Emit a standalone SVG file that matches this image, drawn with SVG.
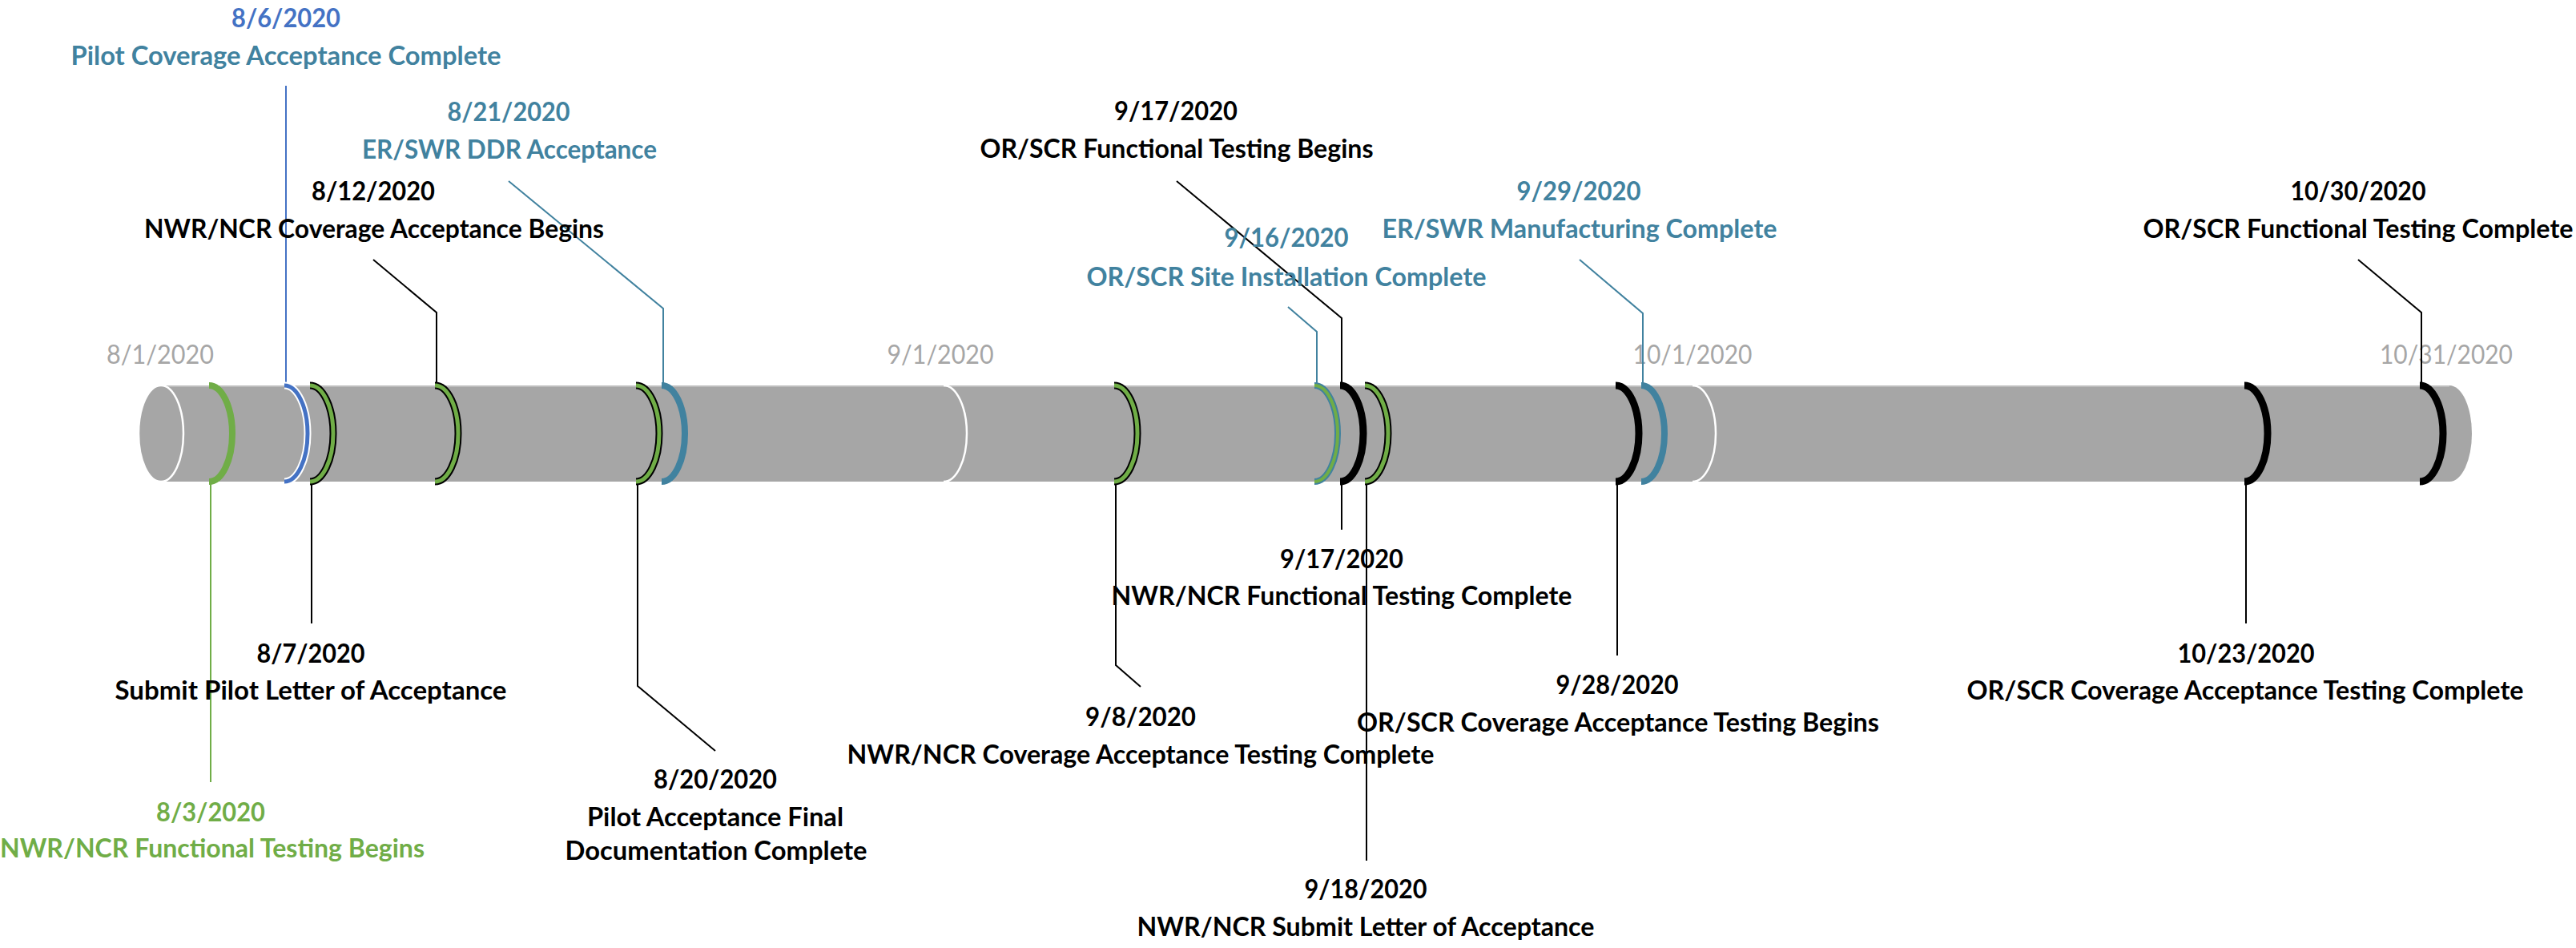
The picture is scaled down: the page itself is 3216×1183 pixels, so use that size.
<svg xmlns="http://www.w3.org/2000/svg" width="3216" height="1183" viewBox="0 0 3216 1183">
<style>
text{font-family:Lato,"Liberation Sans",sans-serif;font-size:32px;font-weight:bold;text-anchor:middle}
.k{fill:#000}
.tl{fill:#41829F}
.bl{fill:#4472C4}
.gr{fill:#70AD47}
.mo{fill:#A6A6A6;font-weight:normal}
.arc{fill:none}
.s-k{stroke:#000;stroke-width:9}
.s-g{stroke:#70AD47;stroke-width:5}
.s-gt{stroke:#70AD47;stroke-width:8}
.s-w{stroke:#FFF;stroke-width:9}
.s-b{stroke:#4472C4;stroke-width:5}
.s-t{stroke:#41829F;stroke-width:8}
.s-g4{stroke:#70AD47;stroke-width:4}
.s-m{stroke:#FFF;stroke-width:2.5}
.c{fill:none;stroke-width:2}
.ck{stroke:#000}
.ct{stroke:#41829F}
.cb{stroke:#4472C4}
.cg{stroke:#70AD47}
</style>
<defs>
<path id="a" d="M0,481 A29 60 0 0 1 0,601"/>
</defs>
<g id="cylinder">
<path d="M201,481 H3058 A28 60 0 0 1 3058,601 H201 Z" fill="#A6A6A6"/>
<line x1="201" y1="482" x2="3058" y2="482" stroke="#BDBDBD" stroke-width="2"/>
<ellipse cx="201" cy="541" rx="28" ry="60" fill="#A6A6A6" stroke="#FFF" stroke-width="2.5"/>
</g>
<g id="months">
<text class="mo" x="200" y="454" textLength="134" lengthAdjust="spacingAndGlyphs">8/1/2020</text>
<use href="#a" x="1178" class="arc s-m"/>
<text class="mo" x="1174" y="454" textLength="133" lengthAdjust="spacingAndGlyphs">9/1/2020</text>
<use href="#a" x="2113" class="arc s-m"/>
<text class="mo" x="2113" y="454" textLength="149" lengthAdjust="spacingAndGlyphs">10/1/2020</text>
<text class="mo" x="3054" y="454" textLength="166" lengthAdjust="spacingAndGlyphs">10/31/2020</text>
</g>
<g id="connectors">
<polyline class="c cg" points="263,601 263,976"/>
<polyline class="c cb" points="357,481 357,107"/>
<polyline class="c ck" points="389,601 389,778"/>
<polyline class="c ck" points="545,481 545,390 466,324"/>
<polyline class="c ck" points="796,601 796,856 893,937"/>
<polyline class="c ct" points="828,481 828,385 635,226"/>
<polyline class="c ck" points="1393,601 1393,830 1424,857"/>
<polyline class="c ct" points="1644,481 1644,414 1608,383"/>
<polyline class="c ck" points="1675,481 1675,397 1469,226"/>
<polyline class="c ck" points="1675,601 1675,661"/>
<polyline class="c ck" points="1706,601 1706,1074"/>
<polyline class="c ck" points="2019,601 2019,818"/>
<polyline class="c ct" points="2051,481 2051,391 1972,324"/>
<polyline class="c ck" points="2804,601 2804,778"/>
<polyline class="c ck" points="3023,481 3023,390 2944,324"/>
</g>
<g id="m0803">
<use href="#a" x="261" class="arc s-gt"/>
<text class="gr" x="263" y="1025" textLength="136" lengthAdjust="spacingAndGlyphs">8/3/2020</text>
<text class="gr" x="265" y="1070" textLength="530" lengthAdjust="spacingAndGlyphs">NWR/NCR Functional Testing Begins</text>
</g>
<g id="m0806">
<use href="#a" x="355" class="arc s-w"/>
<use href="#a" x="355" class="arc s-b"/>
<text class="bl" x="357" y="34" textLength="136" lengthAdjust="spacingAndGlyphs">8/6/2020</text>
<text class="tl" x="357" y="81" textLength="537" lengthAdjust="spacingAndGlyphs">Pilot Coverage Acceptance Complete</text>
</g>
<g id="m0807">
<use href="#a" x="387" class="arc s-k"/>
<use href="#a" x="387" class="arc s-g"/>
<text class="k" x="388" y="827" textLength="135" lengthAdjust="spacingAndGlyphs">8/7/2020</text>
<text class="k" x="388" y="873" textLength="489" lengthAdjust="spacingAndGlyphs">Submit Pilot Letter of Acceptance</text>
</g>
<g id="m0812">
<use href="#a" x="543" class="arc s-k"/>
<use href="#a" x="543" class="arc s-g"/>
<text class="k" x="466" y="250" textLength="154" lengthAdjust="spacingAndGlyphs">8/12/2020</text>
<text class="k" x="467" y="297" textLength="574" lengthAdjust="spacingAndGlyphs">NWR/NCR Coverage Acceptance Begins</text>
</g>
<g id="m0820">
<use href="#a" x="794" class="arc s-k"/>
<use href="#a" x="794" class="arc s-g"/>
<text class="k" x="893" y="984" textLength="154" lengthAdjust="spacingAndGlyphs">8/20/2020</text>
<text class="k" x="893" y="1031" textLength="320" lengthAdjust="spacingAndGlyphs">Pilot Acceptance Final</text>
<text class="k" x="894" y="1073" textLength="377" lengthAdjust="spacingAndGlyphs">Documentation Complete</text>
</g>
<g id="m0821">
<use href="#a" x="826" class="arc s-t"/>
<text class="tl" x="635" y="151" textLength="153" lengthAdjust="spacingAndGlyphs">8/21/2020</text>
<text class="tl" x="636" y="198" textLength="368" lengthAdjust="spacingAndGlyphs">ER/SWR DDR Acceptance</text>
</g>
<g id="m0908">
<use href="#a" x="1391" class="arc s-k"/>
<use href="#a" x="1391" class="arc s-g"/>
<text class="k" x="1424" y="906" textLength="138" lengthAdjust="spacingAndGlyphs">9/8/2020</text>
<text class="k" x="1424" y="953" textLength="733" lengthAdjust="spacingAndGlyphs">NWR/NCR Coverage Acceptance Testing Complete</text>
</g>
<g id="m0916">
<use href="#a" x="1641" class="arc s-t"/>
<use href="#a" x="1641" class="arc s-g4"/>
<text class="tl" x="1606" y="308" textLength="155" lengthAdjust="spacingAndGlyphs">9/16/2020</text>
<text class="tl" x="1606" y="357" textLength="499" lengthAdjust="spacingAndGlyphs">OR/SCR Site Installation Complete</text>
</g>
<g id="m0917a">
<use href="#a" x="1673" class="arc s-k"/>
<text class="k" x="1468" y="150" textLength="154" lengthAdjust="spacingAndGlyphs">9/17/2020</text>
<text class="k" x="1469" y="197" textLength="491" lengthAdjust="spacingAndGlyphs">OR/SCR Functional Testing Begins</text>
</g>
<g id="m0917b">
<text class="k" x="1675" y="709" textLength="154" lengthAdjust="spacingAndGlyphs">9/17/2020</text>
<text class="k" x="1675" y="755" textLength="575" lengthAdjust="spacingAndGlyphs">NWR/NCR Functional Testing Complete</text>
</g>
<g id="m0918">
<use href="#a" x="1704" class="arc s-k"/>
<use href="#a" x="1704" class="arc s-g"/>
<text class="k" x="1705" y="1121" textLength="153" lengthAdjust="spacingAndGlyphs">9/18/2020</text>
<text class="k" x="1705" y="1168" textLength="571" lengthAdjust="spacingAndGlyphs">NWR/NCR Submit Letter of Acceptance</text>
</g>
<g id="m0928">
<use href="#a" x="2017" class="arc s-k"/>
<text class="k" x="2019" y="866" textLength="153" lengthAdjust="spacingAndGlyphs">9/28/2020</text>
<text class="k" x="2020" y="913" textLength="652" lengthAdjust="spacingAndGlyphs">OR/SCR Coverage Acceptance Testing Begins</text>
</g>
<g id="m0929">
<use href="#a" x="2049" class="arc s-t"/>
<text class="tl" x="1971" y="250" textLength="155" lengthAdjust="spacingAndGlyphs">9/29/2020</text>
<text class="tl" x="1972" y="297" textLength="493" lengthAdjust="spacingAndGlyphs">ER/SWR Manufacturing Complete</text>
</g>
<g id="m1023">
<use href="#a" x="2802" class="arc s-k"/>
<text class="k" x="2804" y="827" textLength="171" lengthAdjust="spacingAndGlyphs">10/23/2020</text>
<text class="k" x="2803" y="873" textLength="695" lengthAdjust="spacingAndGlyphs">OR/SCR Coverage Acceptance Testing Complete</text>
</g>
<g id="m1030">
<use href="#a" x="3021" class="arc s-k"/>
<text class="k" x="2944" y="250" textLength="169" lengthAdjust="spacingAndGlyphs">10/30/2020</text>
<text class="k" x="2944" y="297" textLength="537" lengthAdjust="spacingAndGlyphs">OR/SCR Functional Testing Complete</text>
</g>
</svg>
